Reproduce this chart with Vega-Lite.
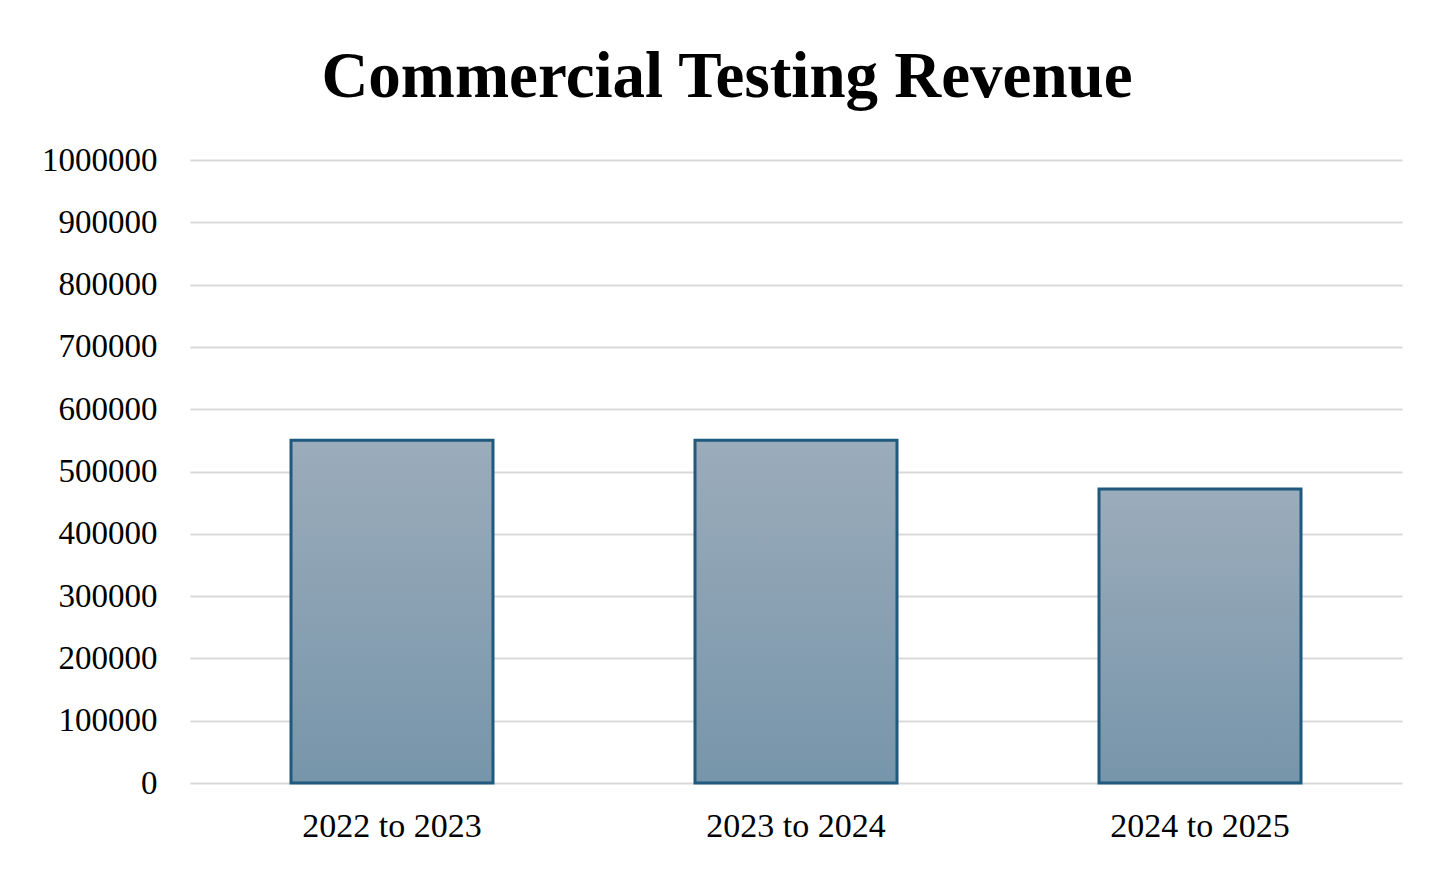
{
  "$schema": "https://vega.github.io/schema/vega-lite/v6.json",
  "autosize": "none",
  "width": 1212,
  "height": 623,
  "padding": {"left": 190, "top": 160, "right": 51, "bottom": 86},
  "background": "white",
  "title": {
    "text": "Commercial Testing Revenue",
    "font": "Liberation Serif",
    "fontWeight": "bold",
    "fontSize": 65,
    "color": "#000000",
    "anchor": "middle",
    "frame": "group",
    "dx": -69,
    "offset": 33
  },
  "data": {
    "values": [
      {"period": "2022 to 2023", "revenue": 550000},
      {"period": "2023 to 2024", "revenue": 550000},
      {"period": "2024 to 2025", "revenue": 472000}
    ]
  },
  "mark": {
    "type": "bar",
    "color": {
      "gradient": "linear",
      "x1": 0, "y1": 0, "x2": 0, "y2": 1,
      "stops": [
        {"offset": 0, "color": "#9bacbb"},
        {"offset": 1, "color": "#7795aa"}
      ]
    },
    "stroke": "#1f5a7e",
    "strokeWidth": 3
  },
  "encoding": {
    "x": {
      "field": "period",
      "type": "nominal",
      "sort": null,
      "title": null,
      "scale": {"paddingInner": 0.5, "paddingOuter": 0.25},
      "axis": {
        "labelAngle": 0,
        "labelFont": "Liberation Serif",
        "labelFontSize": 34,
        "labelColor": "#000000",
        "labelPadding": 26,
        "ticks": false,
        "domain": false,
        "grid": false
      }
    },
    "y": {
      "field": "revenue",
      "type": "quantitative",
      "title": null,
      "scale": {"domain": [0, 1000000], "nice": false},
      "axis": {
        "values": [0, 100000, 200000, 300000, 400000, 500000, 600000, 700000, 800000, 900000, 1000000],
        "format": "d",
        "labelFont": "Liberation Serif",
        "labelFontSize": 33,
        "labelColor": "#000000",
        "labelPadding": 33,
        "ticks": false,
        "domain": false,
        "grid": true,
        "gridColor": "#d9d9d9",
        "gridWidth": 2
      }
    }
  },
  "config": {
    "view": {"stroke": null}
  }
}
